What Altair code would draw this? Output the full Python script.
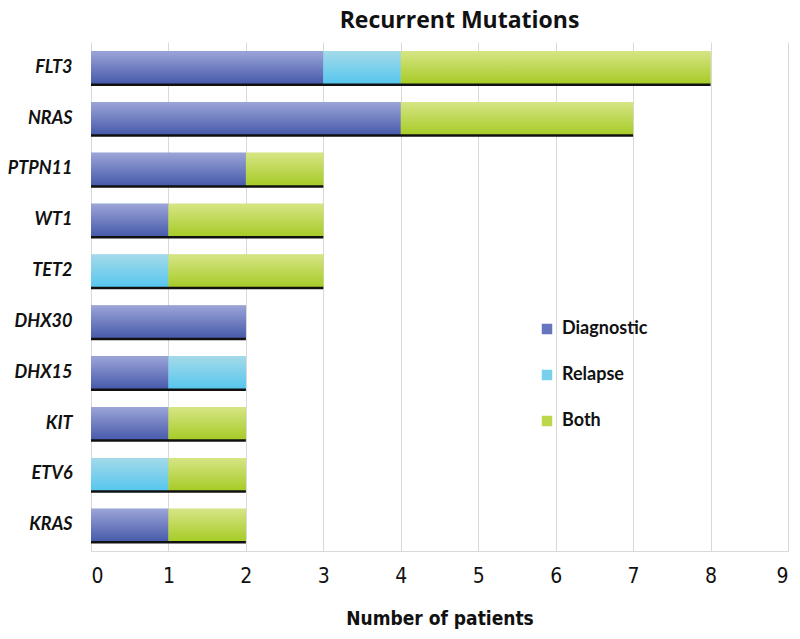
import altair as alt
import pandas as pd

genes = ["FLT3", "NRAS", "PTPN11", "WT1", "TET2", "DHX30", "DHX15", "KIT", "ETV6", "KRAS"]
series = ["Diagnostic", "Relapse", "Both"]
diagnostic = [3, 4, 2, 1, 0, 2, 1, 1, 0, 1]
relapse = [1, 0, 0, 0, 1, 0, 1, 0, 1, 0]
both = [4, 3, 1, 2, 2, 0, 0, 1, 1, 1]
x_ticks = [0, 1, 2, 3, 4, 5, 6, 7, 8, 9]

solid = ["#6675BE", "#79D0EC", "#BCD84A"]
grads = [
    ("#9CA5D8", "#4659AA"),
    ("#A4DAE9", "#55C6EE"),
    ("#D6E585", "#A6CB26"),
]

rows = []
for i, g in enumerate(genes):
    for k, (s, vals) in enumerate(zip(series, [diagnostic, relapse, both])):
        if vals[i] > 0:
            rows.append({"gene": g, "series": s, "order": k, "count": vals[i]})
df = pd.DataFrame(rows)

cond = "DejaVu Sans Condensed, sans-serif"

y_enc = alt.Y("gene:N", sort=genes,
              scale=alt.Scale(paddingInner=0.35, paddingOuter=0.18),
              axis=alt.Axis(title=None, domain=False, ticks=False, grid=False,
                            labelFont="Lato", labelFontWeight="bold", labelFontStyle="italic",
                            labelFontSize=18, labelColor="#111", labelPadding=19,
                            labelLimit=120))
x_scale = alt.Scale(domain=[0, 9], nice=False, zero=True)

base = alt.Chart(df).transform_stack(
    stack="count", groupby=["gene"], as_=["x0", "x1"], sort=[alt.SortField("order")]
)

legend_layer = base.mark_bar().encode(
    x=alt.X("x0:Q", scale=x_scale,
            axis=alt.Axis(values=x_ticks, format="d", title="Number of patients", grid=True,
                          gridColor="#D9D9D9", domainColor="#D9D9D9", ticks=False,
                          labelFont=cond, labelFontSize=21, labelColor="#111", labelPadding=14,
                          titleFont=cond, titleFontSize=19, titleFontWeight="bold",
                          titleColor="#111", titlePadding=23)),
    x2="x1:Q",
    y=y_enc,
    color=alt.Color("series:N", scale=alt.Scale(domain=series, range=solid),
                    legend=alt.Legend(title=None, orient="none", legendX=447, legendY=278,
                                      symbolType="square", symbolSize=110, symbolStrokeWidth=0,
                                      labelFont="Lato", labelFontWeight="bold", labelFontSize=18,
                                      labelColor="#111", rowPadding=28, labelOffset=6)),
)

layers = [legend_layer]
for s, (top, bot) in zip(series, grads):
    layers.append(
        base.transform_filter(alt.datum.series == s).mark_bar(
            color=alt.Gradient(gradient="linear", x1=0, x2=0, y1=0, y2=1,
                               stops=[alt.GradientStop(color=top, offset=0),
                                      alt.GradientStop(color=bot, offset=1)])
        ).encode(x=alt.X("x0:Q", scale=x_scale), x2="x1:Q", y=y_enc)
    )

rule = alt.Chart(df).transform_aggregate(
    total="sum(count)", groupby=["gene"]
).transform_calculate(zero="0").mark_rule(color="#111", strokeWidth=2.5, yOffset=17).encode(
    x=alt.X("zero:Q", scale=x_scale), x2="total:Q", y=y_enc
)
layers.append(rule)

chart = alt.layer(*layers).properties(
    width=697, height=509,
    title=alt.TitleParams("Recurrent Mutations", font="Open Sans", fontSize=23, fontWeight="bold",
                          color="#111", anchor="middle", dx=20, offset=9),
    autosize=alt.AutoSizeParams(type="none"),
    padding={"left": 83, "top": 34, "right": 4, "bottom": 80},
).configure_view(stroke=None)

chart.save("out.html", embed_options={"renderer": "svg", "actions": False})
